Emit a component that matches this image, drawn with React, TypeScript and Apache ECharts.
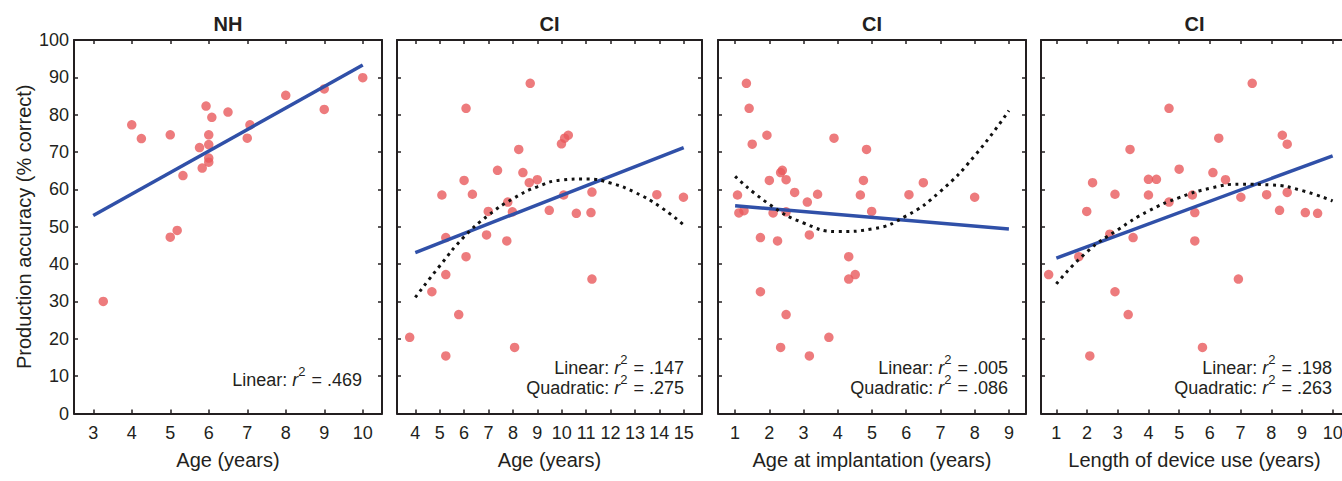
import React, { useEffect, useRef } from "react";
import * as echarts from "echarts";

// ---------- data ----------
const nhPoints: [number, number][] = [
  [3.26, 30.0], [4.0, 77.3], [4.25, 73.6], [5.0, 74.6], [5.0, 47.2], [5.18, 49.0],
  [5.33, 63.7], [5.76, 71.2], [5.83, 65.7], [5.93, 82.3], [6.0, 74.6], [6.0, 72.0],
  [6.0, 68.4], [6.0, 67.3], [6.08, 79.3], [6.5, 80.7], [7.0, 73.7], [7.07, 77.3],
  [8.0, 85.2], [9.0, 86.9], [9.0, 81.4], [10.0, 89.9],
];
const nhLinear: [number, number][] = [[3, 53.0], [10, 93.3]];

const ciAgePoints: [number, number][] = [
  [3.77, 20.4], [4.68, 32.6], [5.09, 58.5], [5.25, 47.1], [5.25, 37.2], [5.25, 15.4],
  [5.78, 26.5], [6.0, 62.4], [6.08, 81.7], [6.08, 42.0], [6.34, 58.7], [6.92, 47.8],
  [6.99, 54.1], [7.37, 65.1], [7.75, 46.2], [7.79, 56.6], [7.98, 54.0], [8.07, 17.7],
  [8.24, 70.7], [8.41, 64.5], [8.67, 61.8], [8.71, 88.4], [9.0, 62.6], [9.49, 54.4],
  [9.99, 72.2], [10.12, 73.7], [10.27, 74.5], [10.08, 58.5], [10.6, 53.6], [11.2, 53.8],
  [11.24, 59.3], [11.24, 36.0], [13.9, 58.6], [14.99, 57.9],
];
const ciAgeLinear: [number, number][] = [[4, 43.1], [15, 71.2]];
const ciAgeQuad: [number, number][] = [
  [4, 31.1], [5, 39.5], [6, 47.3], [7, 53.1], [8, 57.5], [9, 60.7], [10, 62.5],
  [11, 62.8], [12, 61.7], [13, 59.2], [14, 55.5], [15, 50.5],
];

const ciImplPoints: [number, number][] = [
  [1.07, 58.5], [1.11, 53.7], [1.26, 54.3], [1.33, 88.4], [1.41, 81.7], [1.5, 72.1],
  [1.74, 47.1], [1.74, 32.6], [1.93, 74.5], [2.0, 62.4], [2.11, 53.7], [2.24, 46.2],
  [2.33, 64.5], [2.33, 17.7], [2.38, 65.1], [2.49, 62.6], [2.49, 54.0], [2.49, 26.5],
  [2.74, 59.2], [3.11, 56.6], [3.17, 47.8], [3.17, 15.4], [3.41, 58.7], [3.74, 20.4],
  [3.89, 73.7], [4.32, 42.0], [4.32, 36.0], [4.51, 37.2], [4.66, 58.5], [4.75, 62.4],
  [4.84, 70.7], [4.99, 54.1], [6.08, 58.6], [6.5, 61.8], [8.0, 57.9],
];
const ciImplLinear: [number, number][] = [[1, 55.6], [9, 49.4]];
const ciImplQuad: [number, number][] = [
  [1, 63.5], [2, 56.0], [3, 51.0], [4, 48.7], [5, 49.4], [6, 52.9], [7, 59.5],
  [8, 69.0], [9, 81.1],
];

const ciUsePoints: [number, number][] = [
  [0.75, 37.2], [1.73, 42.0], [1.99, 54.1], [2.09, 15.4], [2.18, 61.8], [2.74, 48.0],
  [2.91, 58.7], [2.91, 32.6], [3.34, 26.5], [3.4, 70.7], [3.5, 47.1], [4.0, 62.7],
  [4.0, 58.5], [4.26, 62.7], [4.67, 81.7], [4.67, 56.6], [5.0, 65.4], [5.43, 58.5],
  [5.51, 53.8], [5.51, 46.2], [5.76, 17.7], [6.1, 64.5], [6.29, 73.7], [6.51, 62.6],
  [6.93, 36.0], [7.01, 57.9], [7.38, 88.4], [7.85, 58.6], [8.27, 54.4], [8.36, 74.5],
  [8.52, 72.1], [8.52, 59.2], [9.11, 53.8], [9.51, 53.6],
];
const ciUseLinear: [number, number][] = [[1, 41.6], [10, 69.0]];
const ciUseQuad: [number, number][] = [
  [1, 34.7], [2, 43.3], [3, 49.2], [4, 54.2], [5, 57.8], [6, 60.3], [7, 61.4],
  [8, 61.2], [9, 59.7], [10, 56.9],
];

const ticksNH = [3, 4, 5, 6, 7, 8, 9, 10];
const ticksAge = [4, 5, 6, 7, 8, 9, 10, 11, 12, 13, 14, 15];
const ticksImpl = [1, 2, 3, 4, 5, 6, 7, 8, 9];
const ticksUse = [1, 2, 3, 4, 5, 6, 7, 8, 9, 10];

const titles = ["NH", "CI", "CI", "CI"];
const xNames = ["Age (years)", "Age (years)", "Age at implantation (years)", "Length of device use (years)"];
const yName = "Production accuracy (% correct)";
const linearR2 = [".469", ".147", ".005", ".198"];
const quadR2 = [null, ".275", ".086", ".263"];

// ---------- styling / layout ----------
const FONT = "'Liberation Sans', Arial, Helvetica, sans-serif";
const INK = "#231f20";
const RED = "#e85a5c";
const BLUE = "#3050a8";

const panels = [
  { left: 74, width: 308, min: 2.5, max: 10.5, ticks: ticksNH, points: nhPoints, lin: nhLinear, quad: null as null | [number, number][], textRight: 362 },
  { left: 397, width: 305, min: 3.25, max: 15.75, ticks: ticksAge, points: ciAgePoints, lin: ciAgeLinear, quad: ciAgeQuad, textRight: 684 },
  { left: 718, width: 308, min: 0.5, max: 9.5, ticks: ticksImpl, points: ciImplPoints, lin: ciImplLinear, quad: ciImplQuad, textRight: 1008 },
  { left: 1041, width: 307, min: 0.5, max: 10.5, ticks: ticksUse, points: ciUsePoints, lin: ciUseLinear, quad: ciUseQuad, textRight: 1332 },
];
const GRID_TOP = 40;
const GRID_H = 373.5;

export default function App() {
  const ref = useRef<HTMLDivElement>(null);
  useEffect(() => {
    if (!ref.current) return;
    const chart = echarts.init(ref.current, undefined, { renderer: "svg" });

    const grid: any[] = [];
    const xAxis: any[] = [];
    const yAxis: any[] = [];
    const series: any[] = [];
    const graphic: any[] = [];

    const richStyles = {
      n: { fontSize: 18, fontFamily: FONT, fill: INK, color: INK, verticalAlign: "middle" },
      i: { fontStyle: "italic", fontSize: 18, fontFamily: FONT, fill: INK, color: INK, verticalAlign: "middle" },
      s: { fontSize: 13, fontFamily: FONT, fill: INK, color: INK, verticalAlign: "middle", padding: [0, 1, 17, 0] },
    };

    panels.forEach((p, i) => {
      grid.push({ left: p.left, top: GRID_TOP, width: p.width, height: GRID_H, containLabel: false });
      const common = {
        gridIndex: i,
        type: "value",
        min: p.min,
        max: p.max,
        splitLine: { show: false },
        axisLine: { show: true, onZero: false, lineStyle: { color: INK, width: 2 } },
        axisTick: { show: true, inside: true, length: 4, customValues: p.ticks, lineStyle: { color: INK, width: 1.5 } },
      };
      xAxis.push({
        ...common,
        position: "bottom",
        axisLabel: { show: true, customValues: p.ticks, margin: 10, fontSize: 18, color: INK, fontFamily: FONT },
        name: xNames[i],
        nameLocation: "middle",
        nameGap: 36,
        nameTextStyle: { fontSize: 20, color: INK, fontFamily: FONT },
      });
      xAxis.push({
        ...common,
        position: "top",
        axisLabel: { show: false },
      });
      const ycommon = {
        gridIndex: i,
        type: "value",
        min: 0,
        max: 100,
        interval: 10,
        splitLine: { show: false },
        axisLine: { show: true, onZero: false, lineStyle: { color: INK, width: 2 } },
        axisTick: { show: true, inside: true, length: 4, lineStyle: { color: INK, width: 1.5 } },
      };
      yAxis.push({
        ...ycommon,
        position: "left",
        axisLabel: { show: i === 0, margin: 5, fontSize: 18, color: INK, fontFamily: FONT },
        ...(i === 0
          ? {
              name: yName,
              nameLocation: "middle",
              nameGap: 40,
              nameTextStyle: { fontSize: 20, color: INK, fontFamily: FONT },
            }
          : {}),
      });
      yAxis.push({ ...ycommon, position: "right", axisLabel: { show: false } });

      series.push({
        type: "scatter",
        xAxisIndex: i * 2,
        yAxisIndex: i * 2,
        data: p.points,
        symbolSize: 9.5,
        itemStyle: { color: RED },
        z: 2,
      });
      series.push({
        type: "line",
        xAxisIndex: i * 2,
        yAxisIndex: i * 2,
        data: p.lin,
        showSymbol: false,
        lineStyle: { color: BLUE, width: 3.5 },
        z: 3,
      });
      if (p.quad) {
        series.push({
          type: "line",
          xAxisIndex: i * 2,
          yAxisIndex: i * 2,
          data: p.quad,
          smooth: true,
          showSymbol: false,
          lineStyle: { color: "#111", width: 3, type: [3, 4.5], cap: "butt" },
          z: 4,
        });
      }

      graphic.push({
        type: "text",
        x: p.left + p.width / 2,
        y: 24,
        style: {
          text: titles[i],
          font: `bold 20px ${FONT}`,
          fill: INK,
          align: "center",
          verticalAlign: "middle",
          textAlign: "center",
          textVerticalAlign: "middle",
        },
      });

      const lines: string[] = [`{n|Linear: }{i|r}{s|2}{n| = ${linearR2[i]}}`];
      if (quadR2[i]) lines.push(`{n|Quadratic: }{i|r}{s|2}{n| = ${quadR2[i]}}`);
      const ys = lines.length === 1 ? [380] : [368, 388];
      lines.forEach((t, k) => {
        graphic.push({
          type: "text",
          x: p.textRight,
          y: ys[k],
          style: {
            text: t,
            font: `18px ${FONT}`,
            fill: INK,
            align: "right",
            verticalAlign: "middle",
            textAlign: "right",
            textVerticalAlign: "middle",
            rich: richStyles,
          },
        });
      });
    });

    chart.setOption({
      animation: false,
      backgroundColor: "#ffffff",
      grid,
      xAxis,
      yAxis,
      series,
      graphic,
    });
    return () => chart.dispose();
  }, []);

  return (
    <div
      ref={ref}
      style={{ position: "fixed", left: 0, top: 0, width: 1352, height: 481, background: "#fff" }}
    />
  );
}
